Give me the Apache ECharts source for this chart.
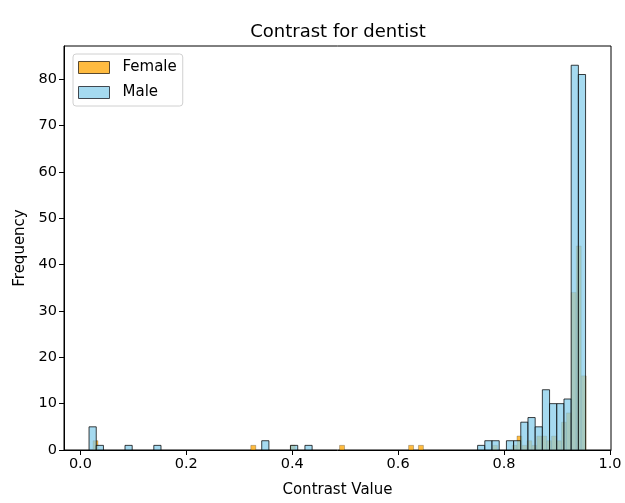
<!DOCTYPE html>
<html>
<head>
<meta charset="utf-8">
<script src="https://cdn.jsdelivr.net/npm/echarts@6/dist/echarts.min.js"></script>
<style>
  html, body { margin: 0; padding: 0; background: #fff; }
  #chart { width: 625px; height: 503px; }
</style>
</head>
<body>
<div id="chart"></div>
<script>
// histogram bins (left edge of each non-empty bin + its count)
const femaleBinWidth = 0.00931;
const femaleBinLeft = [0.0238, 0.3218, 0.3963, 0.4894, 0.6198, 0.6384, 0.7781,
  0.8153, 0.8246, 0.8339, 0.8433, 0.8526, 0.8619, 0.8712, 0.8805, 0.8898,
  0.8991, 0.9084, 0.9178, 0.9271, 0.9364, 0.9457];
const femaleCount = [2, 1, 1, 1, 1, 1, 1,
  1, 3, 1, 2, 1, 3, 3, 2, 3,
  2, 6, 8, 34, 44, 16];

const maleBinWidth = 0.01359;
const maleBinLeft = [0.0163, 0.0299, 0.0842, 0.1386, 0.3424, 0.3968, 0.4240,
  0.7501, 0.7637, 0.7773, 0.8045, 0.8181, 0.8316, 0.8452, 0.8588, 0.8724,
  0.8860, 0.8996, 0.9132, 0.9268, 0.9404];
const maleCount = [5, 1, 1, 1, 2, 1, 1,
  1, 2, 2, 2, 2, 6, 7, 5, 13,
  10, 10, 11, 83, 81];

const xTicks = [0.0, 0.2, 0.4, 0.6, 0.8, 1.0];
const yTicks = [0, 10, 20, 30, 40, 50, 60, 70, 80];

const font = 'DejaVu Sans';

function toBins(lefts, counts, width) {
  return lefts.map((x, i) => [x, x + width, counts[i]]);
}

function histSeries(name, data, fill, stroke, lw) {
  return {
    name,
    type: 'custom',
    data,
    encode: { x: [0, 1], y: 2 },
    itemStyle: { color: fill },
    renderItem: (params, api) => {
      const p0 = api.coord([api.value(0), api.value(2)]);
      const p1 = api.coord([api.value(1), 0]);
      return {
        type: 'rect',
        shape: { x: p0[0], y: p0[1], width: p1[0] - p0[0], height: p1[1] - p0[1] },
        style: { fill: fill, stroke: stroke, lineWidth: lw, opacity: 0.75 }
      };
    }
  };
}

const chart = echarts.init(document.getElementById('chart'));

chart.setOption({
  animation: false,
  title: {
    text: 'Contrast for dentist',
    left: 333,
    textAlign: 'center',
    top: 18,
    textStyle: { fontFamily: font, fontSize: 18, fontWeight: 'normal', color: '#000' }
  },
  legend: {
    orient: 'vertical',
    left: 73,
    top: 54,
    padding: [6, 6, 6, 5],
    itemWidth: 31,
    itemHeight: 12,
    itemGap: 10,
    icon: 'rect',
    backgroundColor: 'rgba(255,255,255,0.8)',
    borderColor: '#d0d0d0',
    borderWidth: 1,
    borderRadius: 3,
    textStyle: { fontFamily: font, fontSize: 15, color: '#000', padding: [0, 0, 0, 8] },
    data: [
      { name: 'Female', itemStyle: { color: '#FFBB40', borderColor: '#5a4a30', borderWidth: 1 } },
      { name: 'Male', itemStyle: { color: '#A5DAF0', borderColor: '#404850', borderWidth: 1 } }
    ]
  },
  grid: {
    left: 64,
    top: 46,
    width: 547,
    height: 408,
    show: true,
    borderColor: '#000',
    borderWidth: 1,
    backgroundColor: 'transparent'
  },
  xAxis: {
    type: 'value',
    min: -0.031,
    max: 1.002,
    name: 'Contrast Value',
    nameLocation: 'middle',
    nameGap: 33,
    nameTextStyle: { fontFamily: font, fontSize: 15, color: '#000' },
    axisLine: { onZero: false, lineStyle: { color: '#000', width: 1 } },
    axisTick: { length: 5, lineStyle: { color: '#000' }, customValues: xTicks },
    axisLabel: {
      customValues: xTicks,
      formatter: v => v.toFixed(1),
      fontFamily: font, fontSize: 14.5, color: '#000', margin: 7
    },
    splitLine: { show: false }
  },
  yAxis: {
    type: 'value',
    min: 0,
    max: 87.15,
    name: 'Frequency',
    nameLocation: 'middle',
    nameGap: 35,
    nameTextStyle: { fontFamily: font, fontSize: 15, color: '#000' },
    axisLine: { show: true, onZero: false, lineStyle: { color: '#000', width: 1 } },
    axisTick: { show: true, length: 5, lineStyle: { color: '#000' }, customValues: yTicks },
    axisLabel: {
      customValues: yTicks,
      fontFamily: font, fontSize: 14.5, color: '#000', margin: 7
    },
    splitLine: { show: false }
  },
  series: [
    histSeries('Female', toBins(femaleBinLeft, femaleCount, femaleBinWidth), '#FFA500', 'rgba(0,0,0,0.45)', 0.7),
    histSeries('Male', toBins(maleBinLeft, maleCount, maleBinWidth), '#87CEEB', '#000', 1)
  ]
});
</script>
</body>
</html>
